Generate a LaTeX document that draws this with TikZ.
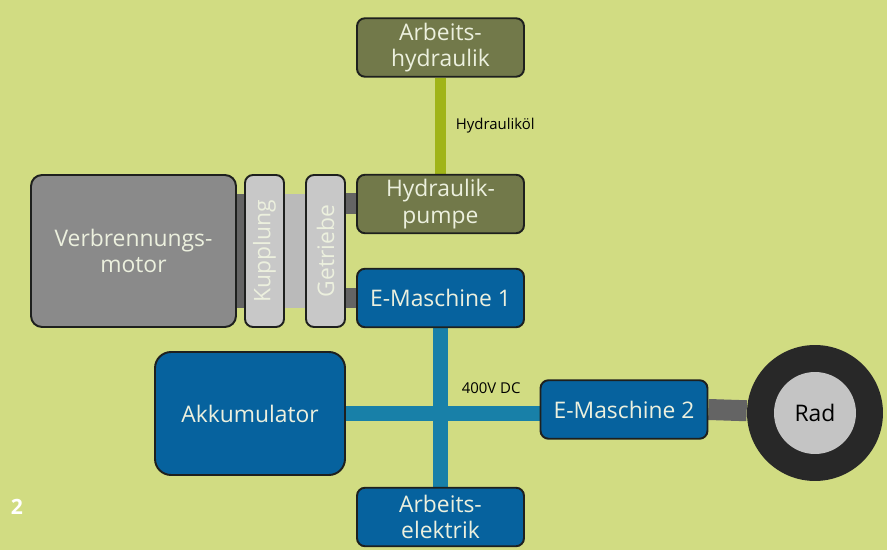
\documentclass[tikz,border=0pt]{standalone}
\usepackage{fontspec}
\setmainfont{Open Sans}
\usetikzlibrary{positioning}
\pgfdeclarelayer{bg}
\pgfdeclarelayer{links}
\pgfsetlayers{bg,links,main}
\definecolor{grund}{RGB}{209,220,130}
\definecolor{motorgrau}{RGB}{138,138,138}
\definecolor{hellgrau}{RGB}{200,200,200}
\definecolor{wellegrau}{RGB}{100,100,100}
\definecolor{oliv}{RGB}{114,121,74}
\definecolor{blau}{RGB}{6,98,158}
\definecolor{leitung}{RGB}{24,128,168}
\definecolor{oel}{RGB}{160,180,24}
\definecolor{rand}{RGB}{30,32,30}
\definecolor{schrift}{RGB}{236,240,222}
\definecolor{reifen}{RGB}{40,40,40}
\definecolor{felge}{RGB}{196,196,196}
\tikzset{
  box/.style={draw=rand, line width=1.1pt, rounded corners=0.16cm, text=schrift,
    align=center, inner sep=0pt, font=\fontsize{13}{15}\selectfont},
  olivbox/.style={box, fill=oliv, minimum width=3.34cm, minimum height=1.17cm},
  blaubox/.style={box, fill=blau, minimum width=3.34cm, minimum height=1.17cm},
  kupbox/.style={box, fill=hellgrau, minimum width=0.78cm, minimum height=3.04cm},
  welle/.style={draw=wellegrau, line width=0.42cm},
  strom/.style={draw=leitung, line width=0.29cm},
  lbl/.style={text=black, font=\fontsize{8.5}{10}\selectfont}
}
\begin{document}
\begin{tikzpicture}[x=0.02cm, y=-0.02cm]
  \useasboundingbox (0,0) rectangle (887,550);
  \begin{pgfonlayer}{bg}
    \fill[grund] (0,0) rectangle (887,550);
  \end{pgfonlayer}

  \node[box, fill=motorgrau, rounded corners=0.22cm, minimum width=4.1cm, minimum height=3.04cm] (motor) at (133.5,251) {Verbrennungs-\\motor};
  \node[kupbox] (kupplung) at (264.5,251) {\rotatebox{90}{Kupplung}};
  \node[kupbox] (getriebe) at (325.5,251) {\rotatebox{90}{Getriebe}};
  \node[olivbox] (ahyd) at (440.5,47.5) {Arbeits-\\hydraulik};
  \node[olivbox] (hpumpe) at (440.5,204) {Hydraulik-\\pumpe};
  \node[blaubox] (em1) at (440.5,298) {E-Maschine 1};
  \node[box, fill=blau, rounded corners=0.32cm, minimum width=3.8cm, minimum height=2.46cm] (akku) at (250,413.5) {Akkumulator};
  \node[blaubox] (aelek) at (440.5,517) {Arbeits-\\elektrik};
  \node[blaubox] (em2) at (624,409.5) {E-Maschine 2};
  \node[circle, fill=reifen, minimum size=2.72cm] (rad) at (815,413) {};
  \node[circle, fill=felge, minimum size=1.64cm, font=\fontsize{13}{15}\selectfont] (felge) at (rad) {Rad};
  \node[text=white, font=\bfseries\fontsize{12}{14}\selectfont] (nr) at (17,507) {2};

  \begin{pgfonlayer}{links}
    \draw[wellegrau, line width=2.3cm] (motor) -- (kupplung);
    \draw[hellgrau!93!black, line width=2.3cm] (kupplung) -- (getriebe);
    \draw[welle] (getriebe.east |- hpumpe) -- (hpumpe.west);
    \draw[welle, line width=0.4cm] (getriebe.east |- em1) -- (em1.west);
    \draw[oel, line width=0.22cm] (ahyd) -- node[lbl, right=0.08cm] {Hydrauliköl} (hpumpe);
    \draw[strom] (em1) -- (aelek);
    \draw[strom] (akku.east) -- node[lbl, pos=0.75, above=0.14cm] {400V DC} (akku.east -| em2.west);
    \draw[welle] (em2.east) -- (rad);
  \end{pgfonlayer}
\end{tikzpicture}
\end{document}
